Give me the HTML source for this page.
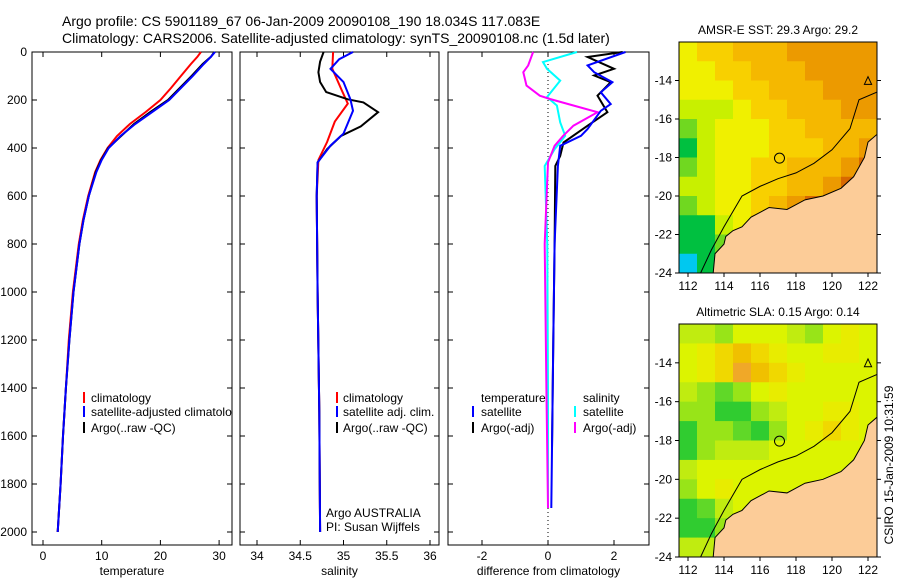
<!DOCTYPE html>
<html><head><meta charset="utf-8"><style>
html,body{margin:0;padding:0;background:#fff}
svg{display:block;font-family:"Liberation Sans",sans-serif}
</style></head><body>
<svg id="fig" width="900" height="580" viewBox="0 0 900 580">
<text x="62" y="26" font-size="14">Argo profile: CS 5901189_67 06-Jan-2009 20090108_190 18.034S 117.083E</text>
<text x="62" y="43" font-size="14">Climatology: CARS2006. Satellite-adjusted climatology: synTS_20090108.nc (1.5d later)</text>
<g id="g1"></g>
<g id="g2"></g>
<g id="g3"></g>
<g id="m1"></g>
<g id="m2"></g>
<text transform="translate(893,465) rotate(-90)" text-anchor="middle" font-size="12">CSIRO 15-Jan-2009 10:31:59</text>
</svg>
<script>
// ---- data ----
const depthTicks=[0,200,400,600,800,1000,1200,1400,1600,1800,2000];
const tempTicks=[0,10,20,30];
const salTicks=[34,34.5,35,35.5,36];
const diffTicks=[-2,0,2];
const tDepth=[0,20,50,100,150,200,250,300,350,400,450,500,600,700,800,1000,1200,1400,1600,1800,2000];
const climT=[26.9,26.3,25.2,23.5,21.8,20.0,17.5,14.8,12.6,11.0,9.8,8.9,7.7,6.8,6.1,5.1,4.4,3.9,3.4,3.0,2.5];
const satT=[29.3,28.6,27.4,25.5,23.5,21.5,18.6,15.7,13.2,11.2,10.0,9.1,7.8,6.9,6.2,5.2,4.5,3.9,3.4,3.0,2.5];
const argoT=[29.2,28.6,27.2,25.3,23.3,21.3,18.3,15.5,13.3,11.1,9.9,9.0,7.8,6.9,6.2,5.2,4.5,3.9,3.4,3.0,2.5];
const sDepthArgo=[0,40,84,125,167,197,210,251,310,350,405,460,600,1000,1500,2000];
const argoS=[34.77,34.73,34.71,34.73,34.80,35.05,35.23,35.40,35.20,34.97,34.81,34.70,34.69,34.70,34.72,34.73];
const sDepthSat=[0,30,70,125,197,245,340,390,460,600,1000,1500,2000];
const satS=[35.11,34.95,34.85,35.0,35.08,35.11,35.0,34.85,34.70,34.69,34.70,34.72,34.73];
const sDepthClim=[0,70,160,215,290,375,450,600,1000,1500,2000];
const climS=[34.88,34.87,34.98,35.05,34.90,34.81,34.71,34.69,34.70,34.72,34.73];
const dDepthCyan=[0,42,70,119,188,223,293,349,405,475,800,1400,1900];
const dSalSat=[0.88,-0.15,-0.03,0.37,-0.03,0.27,0.37,0.52,0.2,-0.1,-0.02,0.0,0.0];
const dDepthMag=[0,56,84,140,182,196,223,251,307,349,391,460,800,1400,1900];
const dSalArgo=[-0.45,-0.6,-0.75,-0.65,-0.25,0.06,0.77,1.5,0.77,0.46,0.2,0.0,-0.1,-0.05,0.0];
const dDepthBlack=[0,21,70,98,126,182,251,307,377,433,475,800,1200,1650];
const dTempArgo=[2.26,1.2,2.0,1.4,1.9,1.5,1.8,1.2,0.47,0.37,0.22,0.2,0.16,0.12];
const dDepthBlue=[0,56,84,126,168,217,245,321,349,391,475,800,1200,1900];
const dTempSat=[2.35,1.2,1.4,1.95,1.6,1.9,1.6,1.2,1.0,0.37,0.3,0.2,0.16,0.1];
const lonTicks=[112,114,116,118,120,122];
const latTicks=[14,16,18,20,22,24];
const sstGrid=[
[5,6,6,7,7,7,8,8,8,8,8],[5,5,6,6,7,7,7,8,8,8,8],[5,5,5,6,6,7,7,7,8,8,8],[4,4,4,5,6,6,7,7,7,8,8],
[3,4,5,5,5,6,6,7,7,7,7],[2,4,5,5,5,6,6,6,7,7,8],[3,4,5,5,6,6,7,7,7,8,9],[4,4,5,5,6,6,7,7,8,9,10],
[3,4,5,5,6,7,8,9,10,10,10],[2,2,4,5,7,9,10,10,10,10,10],[2,2,3,7,9,9,10,10,10,10,10],[0,2,2,5,8,9,10,10,10,10,10]];
const slaGrid=[
[4,4,3,5,5,5,4,3,5,6,5],[5,6,7,8,7,6,5,5,6,6,5],[5,6,7,9,8,7,6,5,5,5,5],[4,3,2,3,5,6,5,5,5,5,5],
[3,3,1,1,3,4,5,5,6,6,5],[1,3,3,2,1,3,5,6,7,6,5],[1,3,4,4,4,5,5,5,5,5,5],[4,5,5,5,5,5,5,5,5,5,5],
[3,5,6,5,5,5,5,5,5,5,5],[1,2,4,5,5,5,5,5,5,5,5],[1,1,3,5,5,5,5,5,5,5,5],[4,4,4,5,5,5,5,5,5,5,5]];
const coastLon=[113.4,113.5,114.0,114.1,114.5,115.0,115.5,116.5,117.5,118.5,119.5,120.5,121.2,121.5,121.8,122.0,122.5,122.5];
const coastLat=[24,23.0,22.5,22.1,21.8,21.6,21.1,20.6,20.7,20.2,20.0,19.6,19.0,18.5,18.0,17.2,16.8,24];
const isoLon=[112.7,113.3,114.0,115.0,116.0,117.0,118.0,119.0,120.0,121.0,121.5,122.5];
const isoLat=[24,22.8,21.6,20.0,19.5,19.1,18.8,18.3,17.6,16.5,15.0,14.6];

const NS='http://www.w3.org/2000/svg';
function mk(parent,tag,attrs){const e=document.createElementNS(NS,tag);for(const k in attrs)e.setAttribute(k,attrs[k]);parent.appendChild(e);return e;}
const TOP=52,BOT=545;
const yD=d=>TOP+d*0.24;
function panel(g,x0,x1,xs,ticks,label,name){
  const r=mk(g,'rect',{x:x0,y:TOP,width:x1-x0,height:BOT-TOP,fill:'#fff',stroke:'#000','stroke-width':1});
  
  
  depthTicks.forEach(d=>{mk(g,'line',{x1:x0,x2:x0+5,y1:yD(d),y2:yD(d),stroke:'#000'});mk(g,'line',{x1:x1-5,x2:x1,y1:yD(d),y2:yD(d),stroke:'#000'});});
  ticks.forEach(v=>{const x=xs(v);mk(g,'line',{x1:x,x2:x,y1:TOP,y2:TOP+5,stroke:'#000'});mk(g,'line',{x1:x,x2:x,y1:BOT-5,y2:BOT,stroke:'#000'});
    const t=mk(g,'text',{x:x,y:560,'font-size':12,'text-anchor':'middle'});t.textContent=String(v);
    
    });
  const t=mk(g,'text',{x:(x0+x1)/2,y:575,'font-size':12,'text-anchor':'middle'});
  t.textContent=label;
  
  
}
function line(g,xs,depths,vals,color,w,name){
  const pts=depths.map((d,i)=>xs(vals[i]).toFixed(1)+','+yD(d).toFixed(1)).join(' ');
  const p=mk(g,'polyline',{points:pts,fill:'none',stroke:color,'stroke-width':w});
  
  
}
function txt(g,x,y,s,name,size,anchor){const t=mk(g,'text',{x:x,y:y,'font-size':size||12,'text-anchor':anchor||'start'});t.textContent=s;
  
  return t;}
function legMark(g,x,y,c){mk(g,'line',{x1:x,x2:x,y1:y-10,y2:y+1,stroke:c,'stroke-width':2});}
const svg=document.getElementById('fig');
depthTicks.forEach(d=>{txt(svg,27,yD(d)+4,String(d),'depth-tick-label',12,'end');});
// panel 1
const g1=document.getElementById('g1');const xT=v=>43+v*5.87;
panel(g1,32,232,xT,tempTicks,'temperature','temperature');
line(g1,xT,tDepth,climT,'#f00',2,'climatology-temperature-line');
line(g1,xT,tDepth,argoT,'#000',2,'argo-temperature-line');
line(g1,xT,tDepth,satT,'#00f',2,'satellite-temperature-line');
const cl=mk(g1,'clipPath',{id:'c1'});mk(cl,'rect',{x:32,y:TOP,width:200,height:BOT-TOP});
const lg1=mk(g1,'g',{'clip-path':'url(#c1)'});
legMark(lg1,84,402,'#f00');txt(lg1,91,402,'climatology','legend-entry-climatology');
legMark(lg1,84,416,'#00f');txt(lg1,91,416,'satellite-adjusted climatology','legend-entry-satellite');
legMark(lg1,84,432,'#000');txt(lg1,91,432,'Argo(..raw -QC)','legend-entry-argo');
// panel 2
const g2=document.getElementById('g2');const xS=v=>257+(v-34)*86.5;
panel(g2,240,439,xS,salTicks,'salinity','salinity');
line(g2,xS,sDepthClim,climS,'#f00',2,'climatology-salinity-line');
line(g2,xS,sDepthArgo,argoS,'#000',2,'argo-salinity-line');
line(g2,xS,sDepthSat,satS,'#00f',2,'satellite-salinity-line');
legMark(g2,337,402,'#f00');txt(g2,343,402,'climatology','legend-entry-climatology');
legMark(g2,337,416,'#00f');txt(g2,343,416,'satellite adj. clim.','legend-entry-satellite');
legMark(g2,337,432,'#000');txt(g2,343,432,'Argo(..raw -QC)','legend-entry-argo');
txt(g2,326,517,'Argo AUSTRALIA','agency-label');
txt(g2,326,531,'PI: Susan Wijffels','pi-label');
// panel 3
const g3=document.getElementById('g3');const xDf=v=>548+v*33;
panel(g3,448,649,xDf,diffTicks,'difference from climatology','difference');
mk(g3,'line',{x1:548,x2:548,y1:TOP,y2:BOT,stroke:'#000','stroke-dasharray':'1,3'});
line(g3,xDf,dDepthCyan,dSalSat,'#0ff',2,'salinity-satellite-diff-line');
line(g3,xDf,dDepthMag,dSalArgo,'#f0f',2,'salinity-argo-diff-line');
line(g3,xDf,dDepthBlack,dTempArgo,'#000',2,'temperature-argo-diff-line');
line(g3,xDf,dDepthBlue,dTempSat,'#00f',2,'temperature-satellite-diff-line');
txt(g3,481,402,'temperature','legend-title-temperature');
legMark(g3,473,416,'#00f');txt(g3,481,416,'satellite','legend-entry-temp-satellite');
legMark(g3,473,432,'#000');txt(g3,481,432,'Argo(-adj)','legend-entry-temp-argo');
txt(g3,583,402,'salinity','legend-title-salinity');
legMark(g3,575,416,'#0ff');txt(g3,583,416,'satellite','legend-entry-sal-satellite');
legMark(g3,575,432,'#f0f');txt(g3,583,432,'Argo(-adj)','legend-entry-sal-argo');
// maps
const sstCols=['#00c8f0','#00b860','#00c040','#70d820','#c8f000','#f0f000','#f8d000','#f5b800','#ec9a00','#d86800','#a81000'];
const slaCols=['#10c040','#30cc30','#60d828','#98e418','#c0ec10','#dcf400','#e8ec00','#f0d800','#f0c000','#f0a828'];
function map(g,top,bot,grid,cols,title,name){
  const xL=v=>679+(v-111.5)*18, yL=v=>top+(v-12)*(bot-top)/12;
  txt(g,778,top-8,title,name+'-title',12,'middle');
  const cp=mk(g,'clipPath',{id:'cp'+name});mk(cp,'rect',{x:679,y:top,width:198,height:bot-top});
  const inner=mk(g,'g',{'clip-path':'url(#cp'+name+')'});
  grid.forEach((row,i)=>row.forEach((v,j)=>{
    const r=mk(inner,'rect',{x:xL(111.5+j),y:yL(12+i),width:18.5,height:(bot-top)/12+0.5,fill:cols[v]});
    
    
  }));
  const land=mk(inner,'polygon',{points:coastLon.map((v,i)=>xL(v)+','+yL(coastLat[i])).join(' '),fill:'#fccc98',stroke:'#000','stroke-width':1});
  
  
  const iso=mk(inner,'polyline',{points:isoLon.map((v,i)=>xL(v)+','+yL(isoLat[i])).join(' '),fill:'none',stroke:'#000','stroke-width':1});
  
  
  const c=mk(inner,'circle',{cx:xL(117.083),cy:yL(18.034),r:5,fill:'none',stroke:'#000'});
  
  
  mk(inner,'polygon',{points:`${xL(122)},${yL(13.8)} ${xL(121.8)},${yL(14.2)} ${xL(122.2)},${yL(14.2)}`,fill:'none',stroke:'#000'});
  mk(g,'rect',{x:679,y:top,width:198,height:bot-top,fill:'none',stroke:'#000'});
  lonTicks.forEach(v=>{mk(g,'line',{x1:xL(v),x2:xL(v),y1:bot,y2:bot+4,stroke:'#000'});txt(g,xL(v),bot+17,String(v),name+'-lon-label',12,'middle');});
  latTicks.forEach(v=>{mk(g,'line',{x1:675,x2:679,y1:yL(v),y2:yL(v),stroke:'#000'});mk(g,'line',{x1:877,x2:881,y1:yL(v),y2:yL(v),stroke:'#000'});txt(g,672,yL(v)+4,String(-v),name+'-lat-label',12,'end');});
}
map(document.getElementById('m1'),42,273,sstGrid,sstCols,'AMSR-E SST: 29.3 Argo: 29.2','sst-map');
map(document.getElementById('m2'),324,557,slaGrid,slaCols,'Altimetric SLA: 0.15 Argo: 0.14','sla-map');
</script>
</body></html>
